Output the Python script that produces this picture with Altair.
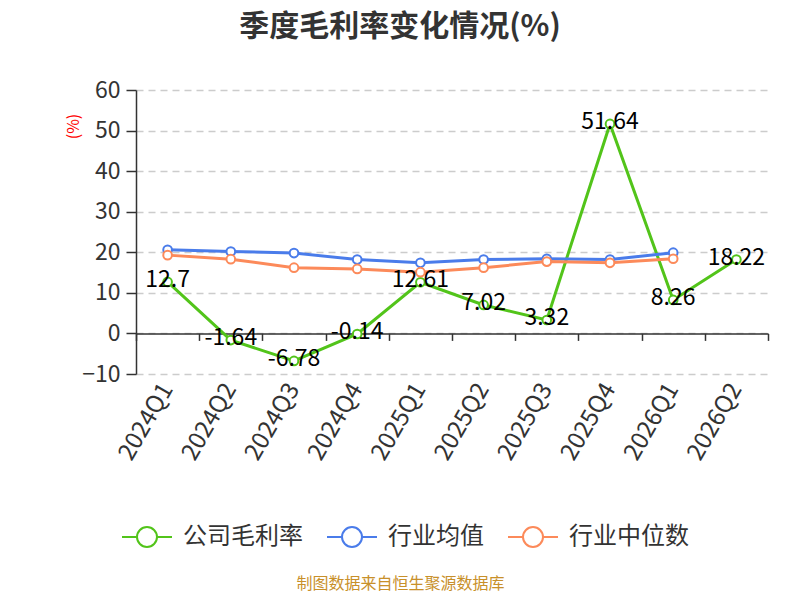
import altair as alt
import pandas as pd

quarters = ["2024Q1", "2024Q2", "2024Q3", "2024Q4", "2025Q1",
            "2025Q2", "2025Q3", "2025Q4", "2026Q1", "2026Q2"]
company = [12.7, -1.64, -6.78, -0.14, 12.61, 7.02, 3.32, 51.64, 8.26, 18.22]
ind_avg = [20.6, 20.2, 19.8, 18.2, 17.4, 18.2, 18.4, 18.2, 19.9]
ind_med = [19.3, 18.3, 16.2, 15.9, 15.1, 16.2, 17.7, 17.4, 18.4]
series_names = ["公司毛利率", "行业均值", "行业中位数"]
colors = ["#52c41a", "#4a7cea", "#fc8a5a"]

rows = []
for name, vals in zip(series_names, [company, ind_avg, ind_med]):
    for q, v in zip(quarters, vals):
        rows.append({"quarter": q, "value": v, "series": name,
                     "label": f"{v:g}"})
df = pd.DataFrame(rows)

FONT = "Noto Sans CJK SC"

y_enc = alt.Y("value:Q",
              scale=alt.Scale(domain=[-10, 60], nice=False, zero=False),
              axis=alt.Axis(values=list(range(-10, 61, 10)), title="(%)",
                            titleColor="red", titleFontSize=16, titleFontWeight="normal",
                            titleAngle=-90, titleX=-63, titleY=36,
                            titleAlign="center", titleBaseline="middle",
                            labelFontSize=23, labelColor="#333333", labelPadding=6,
                            tickSize=10, tickColor="#333333", domainColor="#333333",
                            domainWidth=1.5, tickWidth=1.5,
                            grid=True, gridDash=[7, 5], gridColor="#cccccc",
                            gridWidth=1.5))

x_scale = alt.Scale(type="band", domain=quarters, paddingInner=0, paddingOuter=0)

x_zero = alt.X("quarter:N", sort=quarters, scale=x_scale,
               axis=alt.Axis(orient="bottom", offset=-40.6, labels=False, title=None,
                             tickBand="extent", tickSize=7, tickColor="#333333",
                             tickWidth=1.5, domainColor="#333333", domainWidth=1.5,
                             grid=False))
x_none = alt.X("quarter:N", sort=quarters, scale=x_scale, axis=None)
x_labels = alt.X("quarter:N", sort=quarters, scale=x_scale,
                 axis=alt.Axis(orient="bottom", domain=False, ticks=False, grid=False,
                               labelAngle=300, labelAlign="right", labelBaseline="middle",
                               labelFontSize=24, labelColor="#333333", labelPadding=11,
                               title="制图数据来自恒生聚源数据库", titleColor="#c8902a",
                               titleFontSize=16, titleFontWeight="normal",
                               titleX=264, titleY=209, titleAlign="center",
                               titleBaseline="middle"))

color_enc = alt.Color("series:N", sort=series_names,
                      scale=alt.Scale(domain=series_names, range=colors),
                      legend=alt.Legend(orient="none", legendX=-15, legendY=421,
                                        direction="horizontal", title=None,
                                        symbolType="M-1,0L-0.4,0M0.4,0L1,0M0.4,0A0.4,0.4,0,1,1,-0.4,0A0.4,0.4,0,1,1,0.4,0",
                                        symbolSize=2500, symbolStrokeWidth=2,
                                        symbolFillColor="white",
                                        labelFontSize=24, labelColor="#333333",
                                        labelOffset=10, columnPadding=20,
                                        padding=0, labelFont=FONT))

lines = alt.Chart(df).mark_line(strokeWidth=3).encode(
    x=x_zero, y=y_enc, color=color_enc, detail="series:N")

points = alt.Chart(df).mark_point(filled=False, fill="white", fillOpacity=1,
                                  strokeWidth=2, size=75, opacity=1).encode(
    x=x_none, y=y_enc,
    color=alt.Color("series:N", scale=alt.Scale(domain=series_names, range=colors),
                    legend=None))

labels = alt.Chart(df).transform_filter(
    alt.datum.series == series_names[0]
).mark_text(fontSize=23, color="black", dy=-2, font=FONT).encode(
    x=x_labels, y=y_enc, text="label:N")

chart = alt.layer(lines, points, labels).resolve_axis(x="independent").properties(
    width=632, height=284,
    autosize=alt.AutoSizeParams(type="none"),
    padding={"left": 128, "top": 82, "right": 24, "bottom": 218},
    title=alt.TitleParams("季度毛利率变化情况(%)", fontSize=30, fontWeight="bold",
                          color="#333333", anchor="middle", dx=-52, offset=37,
                          font=FONT),
).configure(font=FONT).configure_view(stroke=None)

chart.save("out.html", embed_options={"renderer": "svg", "actions": False})
